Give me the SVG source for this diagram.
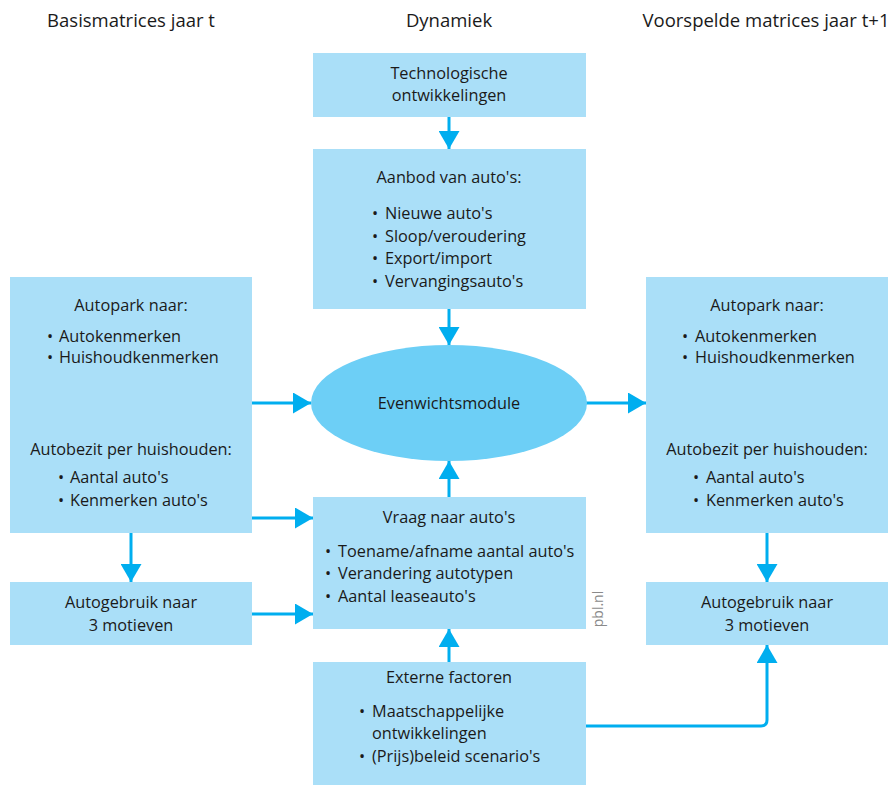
<svg xmlns="http://www.w3.org/2000/svg" width="891" height="785" viewBox="0 0 891 785">
<defs>
<style>
text{font-family:"Open Sans","Noto Sans","Liberation Sans",sans-serif;font-size:16.3px;fill:#1a1a1a}
.c{text-anchor:middle}
.hd{font-size:18.5px}
.box{fill:#aadff8}
.ell{fill:#6dcff6}
.ln{fill:none;stroke:#00aeef;stroke-width:3;marker-end:url(#ah)}
.pbl{font-size:14px;fill:#8a8a8a}
</style>
<marker id="ah" markerUnits="userSpaceOnUse" markerWidth="18" markerHeight="21" refX="18" refY="10.5" orient="auto">
<path d="M0,0 L18,10.5 L0,21 Z" fill="#00aeef"/>
</marker>
</defs>
<rect width="891" height="785" fill="#ffffff"/>
<g id="headers">
<text class="c hd" x="131" y="27">Basismatrices jaar t</text>
<text class="c hd" x="449" y="27">Dynamiek</text>
<text class="c hd" x="766" y="27">Voorspelde matrices jaar t+1</text>
</g>
<g id="connectors">
<path class="ln" d="M449,117 L449,149"/>
<path class="ln" d="M449,309 L449,345"/>
<path class="ln" d="M449,497 L449,461"/>
<path class="ln" d="M449,662 L449,629"/>
<path class="ln" d="M252,403 L311,403"/>
<path class="ln" d="M252,518 L313,518"/>
<path class="ln" d="M252,614 L313,614"/>
<path class="ln" d="M131,533 L131,582"/>
<path class="ln" d="M586,403 L646,403"/>
<path class="ln" d="M767,533 L767,582"/>
<path class="ln" d="M586,726 L761,726 Q767,726 767,720 L767,645"/>
</g>
<g id="tech">
<rect class="box" x="313" y="53" width="273" height="64"/>
<text class="c" x="449" y="79">Technologische</text>
<text class="c" x="449" y="101">ontwikkelingen</text>
</g>
<g id="aanbod">
<rect class="box" x="313" y="149" width="273" height="160"/>
<text class="c" x="449" y="183">Aanbod van auto's:</text>
<text x="372" y="219">•</text><text x="385" y="219">Nieuwe auto's</text>
<text x="372" y="242">•</text><text x="385" y="242">Sloop/veroudering</text>
<text x="372" y="264">•</text><text x="385" y="264">Export/import</text>
<text x="372" y="287">•</text><text x="385" y="287">Vervangingsauto's</text>
</g>
<g id="evenwicht">
<ellipse class="ell" cx="449" cy="403" rx="138" ry="58"/>
<text class="c" x="449" y="409">Evenwichtsmodule</text>
</g>
<g id="vraag">
<rect class="box" x="313" y="497" width="273" height="132"/>
<text class="c" x="449" y="523">Vraag naar auto's</text>
<text x="325" y="557">•</text><text x="338" y="557">Toename/afname aantal auto's</text>
<text x="325" y="579">•</text><text x="338" y="579">Verandering autotypen</text>
<text x="325" y="602">•</text><text x="338" y="602">Aantal leaseauto's</text>
</g>
<g id="extern">
<rect class="box" x="313" y="662" width="273" height="123"/>
<text class="c" x="449" y="683">Externe factoren</text>
<text x="359" y="717">•</text><text x="372" y="717">Maatschappelijke</text>
<text x="372" y="739">ontwikkelingen</text>
<text x="359" y="762">•</text><text x="372" y="762">(Prijs)beleid scenario's</text>
</g>
<g id="basis-autopark">
<rect class="box" x="10" y="277" width="242" height="256"/>
<text class="c" x="131" y="311">Autopark naar:</text>
<text x="47" y="342">•</text><text x="59" y="342">Autokenmerken</text>
<text x="47" y="363">•</text><text x="59" y="363">Huishoudkenmerken</text>
<text class="c" x="131" y="455">Autobezit per huishouden:</text>
<text x="58" y="483">•</text><text x="70" y="483">Aantal auto's</text>
<text x="58" y="506">•</text><text x="70" y="506">Kenmerken auto's</text>
</g>
<g id="basis-gebruik">
<rect class="box" x="10" y="582" width="242" height="63"/>
<text class="c" x="131" y="608">Autogebruik naar</text>
<text class="c" x="131" y="631">3 motieven</text>
</g>
<g id="voorspeld-autopark">
<rect class="box" x="646" y="277" width="242" height="256"/>
<text class="c" x="767" y="311">Autopark naar:</text>
<text x="682" y="342">•</text><text x="695" y="342">Autokenmerken</text>
<text x="682" y="363">•</text><text x="695" y="363">Huishoudkenmerken</text>
<text class="c" x="767" y="455">Autobezit per huishouden:</text>
<text x="693" y="483">•</text><text x="706" y="483">Aantal auto's</text>
<text x="693" y="506">•</text><text x="706" y="506">Kenmerken auto's</text>
</g>
<g id="voorspeld-gebruik">
<rect class="box" x="646" y="582" width="242" height="63"/>
<text class="c" x="767" y="608">Autogebruik naar</text>
<text class="c" x="767" y="631">3 motieven</text>
</g>
<g id="credit">
<text class="pbl c" transform="translate(603,609) rotate(-90)">pbl.nl</text>
</g>
</svg>
